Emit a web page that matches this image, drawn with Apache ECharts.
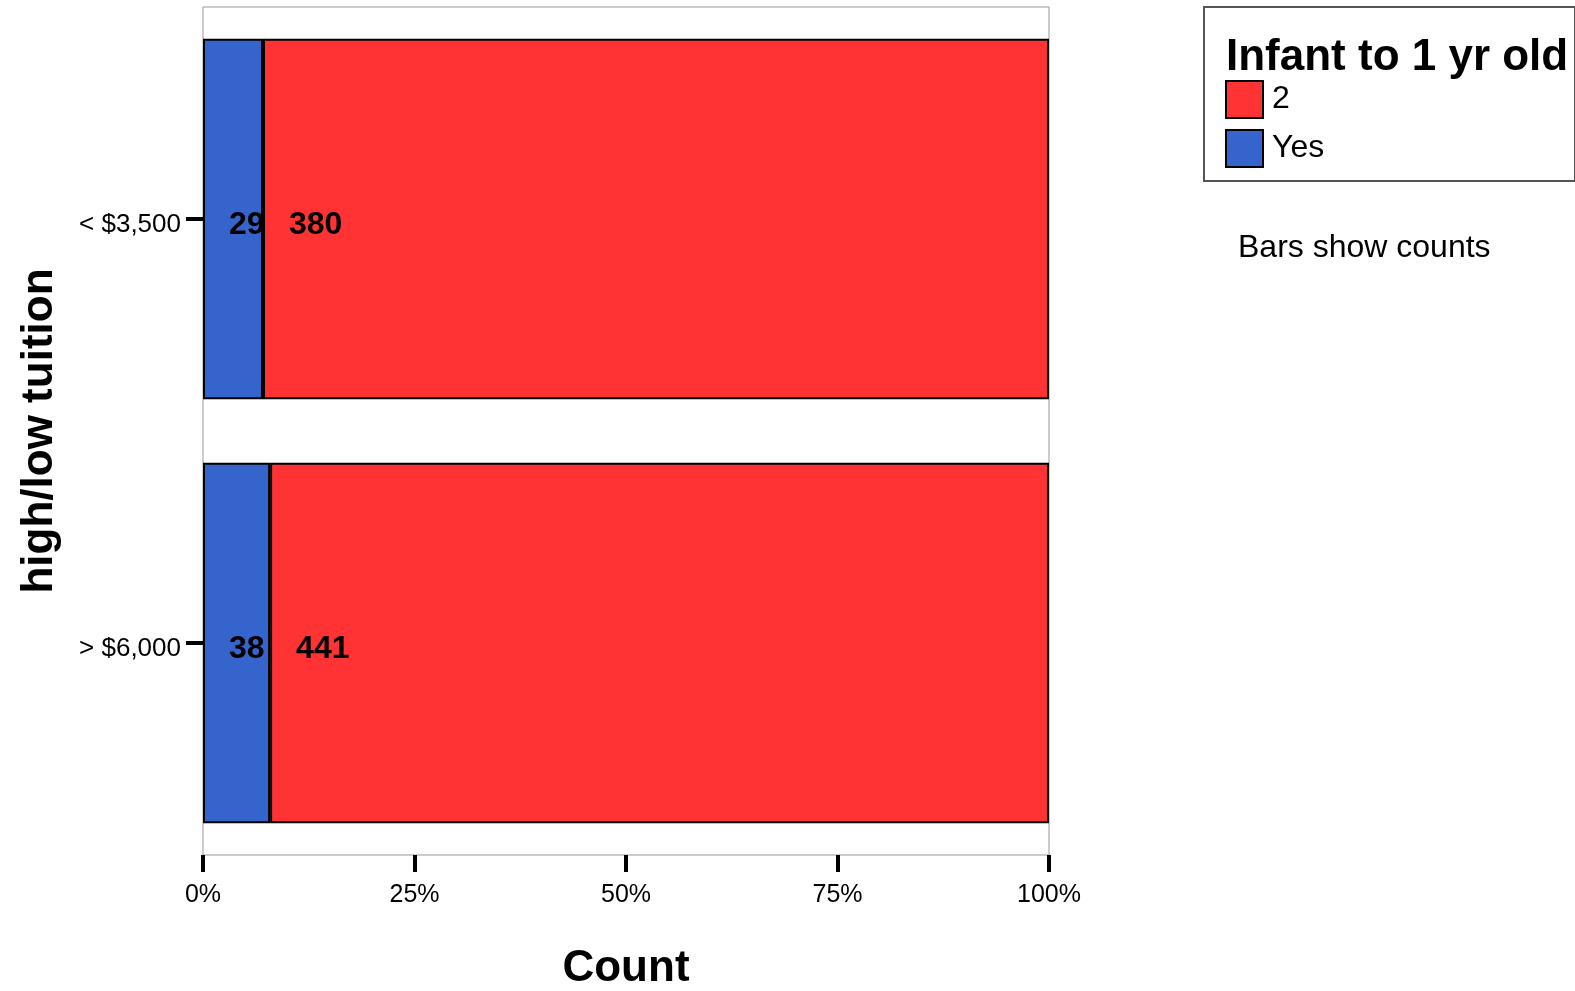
<!DOCTYPE html>
<html><head><meta charset="utf-8">
<script src="https://cdn.jsdelivr.net/npm/echarts@6/dist/echarts.min.js"></script>
<style>html,body{margin:0;padding:0;background:#fff}#c{width:1575px;height:991px}</style>
</head><body><div id="c"></div>
<script>
const categories = ['< $3,500', '> $6,000'];
const yesCounts = [29, 38];
const twoCounts = [380, 441];
const xTicks = [0, 25, 50, 75, 100];

const totals = categories.map((_, i) => yesCounts[i] + twoCounts[i]);
const yesPct = yesCounts.map((v, i) => v / totals[i] * 100);
const twoPct = twoCounts.map((v, i) => v / totals[i] * 100);

const FONT = '"Liberation Sans", Arial, sans-serif';
const chart = echarts.init(document.getElementById('c'));
chart.setOption({
  animation: false,
  grid: { left: 203, right: 526, top: 7, bottom: 136, containLabel: false, outerBoundsMode: 'none',
          show: true, borderColor: '#999', borderWidth: 1, backgroundColor: 'transparent' },
  xAxis: {
    type: 'value', min: 0, max: 100, interval: 25,
    name: 'Count', nameLocation: 'middle', nameGap: 92,
    nameTextStyle: { fontFamily: FONT, fontSize: 44, fontWeight: 'bold', color: '#000' },
    axisLine: { show: false },
    axisTick: { show: true, length: 17, lineStyle: { color: '#000', width: 4 } },
    splitLine: { show: false },
    axisLabel: { formatter: v => xTicks.includes(v) ? v + '%' : '', fontFamily: FONT, fontSize: 25, color: '#000', margin: 28 }
  },
  yAxis: {
    type: 'category', data: categories, inverse: true,
    name: 'high/low tuition', nameLocation: 'middle', nameGap: 141, nameRotate: 90,
    nameTextStyle: { fontFamily: FONT, fontSize: 44, fontWeight: 'bold', color: '#000' },
    axisLine: { show: false },
    axisTick: { show: true, alignWithLabel: true, length: 17, lineStyle: { color: '#000', width: 4 } },
    axisLabel: {
      margin: 22,
      formatter: v => '{a|' + v + '}',
      rich: { a: { fontFamily: FONT, fontSize: 26, color: '#000', padding: [11, 0, 0, 0] } }
    }
  },
  legend: {
    data: ['2', 'Yes'], orient: 'vertical', left: 1225, top: 80, padding: 0,
    icon: 'rect', itemWidth: 37, itemHeight: 37, itemGap: 10,
    textStyle: { fontFamily: FONT, fontSize: 32, color: '#000', padding: [0, 0, 0, 4] },
    selectedMode: false
  },
  graphic: [
    { type: 'rect', shape: { x: 1204, y: 7, width: 371, height: 174 }, style: { fill: 'none', stroke: '#555', lineWidth: 2 } },
    { type: 'text', x: 1226, y: 58, style: { text: 'Infant to 1 yr old', font: 'bold 44px ' + FONT, fill: '#000', verticalAlign: 'middle' } },
    { type: 'text', x: 1238, y: 248, style: { text: 'Bars show counts', font: '32px ' + FONT, fill: '#000', verticalAlign: 'middle' } }
  ],
  series: [
    {
      name: 'Yes', type: 'bar', stack: 'a', barCategoryGap: '15%',
      data: yesPct,
      itemStyle: { color: '#3565cc', borderColor: '#000', borderWidth: 2 },
      label: { show: true, position: 'insideLeft', distance: 26, offset: [0, 6], formatter: p => yesCounts[p.dataIndex], fontFamily: FONT, fontSize: 32, fontWeight: 'bold', color: '#000' }
    },
    {
      name: '2', type: 'bar', stack: 'a', barCategoryGap: '15%',
      data: twoPct,
      itemStyle: { color: '#ff3334', borderColor: '#000', borderWidth: 2 },
      label: { show: true, position: 'insideLeft', distance: 26, offset: [0, 6], formatter: p => twoCounts[p.dataIndex], fontFamily: FONT, fontSize: 32, fontWeight: 'bold', color: '#000' }
    }
  ]
});
</script></body></html>
